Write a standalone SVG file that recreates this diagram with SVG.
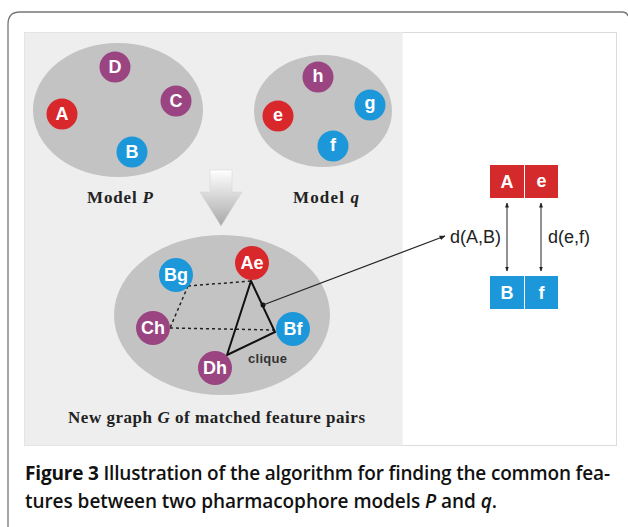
<svg xmlns="http://www.w3.org/2000/svg" width="628" height="527" viewBox="0 0 628 527">
<defs>
<linearGradient id="arrowGrad" x1="0" y1="0" x2="0" y2="1">
<stop offset="0" stop-color="#ffffff"/>
<stop offset="1" stop-color="#a8a8a8"/>
</linearGradient>
<marker id="ah" viewBox="0 0 10 10" refX="9" refY="5" markerWidth="5" markerHeight="5" orient="auto-start-reverse">
<path d="M0,1 L10,5 L0,9 z" fill="#222"/>
</marker>
<style>
.red{fill:#d8282b}
.pur{fill:#9a4582}
.blu{fill:#1c98da}
.lbl{font-family:"Liberation Sans",Arial,sans-serif;font-weight:bold;fill:#fff;text-anchor:middle;dominant-baseline:central;font-size:18px}
.ell{fill:#c3c3c3}
.model{font-family:"Liberation Serif","Times New Roman",serif;font-weight:bold;font-size:17px;fill:#222}
.dash{stroke:#222;stroke-width:1.5;stroke-dasharray:3,3;fill:none}
.solid{stroke:#111;stroke-width:2;fill:none}
.dist{font-family:"Liberation Sans",Arial,sans-serif;font-size:18px;fill:#222}
.cap{font-family:"Open Sans","Noto Sans",sans-serif;font-size:19px;font-weight:600;fill:#111}
</style>
</defs>
<rect width="628" height="527" fill="#fff"/>
<path d="M8,527 V24 Q8,12 20,12 H622 Q627,12 628,16" fill="none" stroke="#777" stroke-width="1.3"/>
<rect x="24.5" y="32.5" width="592" height="413" fill="#fff" stroke="#dcdcdc" stroke-width="1"/>
<rect x="24.5" y="32.5" width="378" height="413" fill="#eeeeee"/>

<g id="modelP">
<ellipse class="ell" cx="118" cy="110" rx="85" ry="67"/>
<text class="model" x="87" y="203" textLength="66" lengthAdjust="spacing">Model <tspan font-style="italic">P</tspan></text>
</g>
<g id="nodeD"><circle class="pur" cx="115" cy="67" r="15.5"/><text class="lbl" x="115" y="67">D</text></g>
<g id="nodeC"><circle class="pur" cx="176" cy="101" r="15.5"/><text class="lbl" x="176" y="101">C</text></g>
<g id="nodeA"><circle class="red" cx="62" cy="114" r="15.5"/><text class="lbl" x="62" y="114">A</text></g>
<g id="nodeB"><circle class="blu" cx="132" cy="152" r="15.5"/><text class="lbl" x="132" y="152">B</text></g>

<g id="modelQ">
<ellipse class="ell" cx="323" cy="111" rx="69" ry="56"/>
<text class="model" x="293" y="203" textLength="66" lengthAdjust="spacing">Model <tspan font-style="italic">q</tspan></text>
</g>
<g id="nodeh"><circle class="pur" cx="318" cy="77" r="15.5"/><text class="lbl" x="318" y="76">h</text></g>
<g id="nodeg"><circle class="blu" cx="370" cy="105" r="15.5"/><text class="lbl" x="370" y="103">g</text></g>
<g id="nodee"><circle class="red" cx="278" cy="116" r="15.5"/><text class="lbl" x="278" y="115">e</text></g>
<g id="nodef"><circle class="blu" cx="333" cy="146" r="15.5"/><text class="lbl" x="333" y="145">f</text></g>

<g id="bigArrow">
<path d="M210,170 H232 V192 H242 L221,226 L200,192 H210 Z" fill="url(#arrowGrad)" stroke="#d0d0d0" stroke-width="0.5"/>
</g>

<g id="graphG">
<ellipse class="ell" cx="222" cy="315" rx="108" ry="80"/>
<text class="model" x="68" y="423" textLength="297" lengthAdjust="spacing">New graph <tspan font-style="italic">G</tspan> of matched feature pairs</text>
</g>

<g id="connectors">
<path class="dash" d="M188,286 L251,281"/>
<path class="dash" d="M188,286 L170,328"/>
<path class="dash" d="M170,328 L275,330"/>
<path class="solid" d="M251,281 L275,332 L227,355 Z"/>
<circle cx="263" cy="305" r="2.5" fill="#111"/>
<line x1="263" y1="305" x2="445" y2="236" stroke="#222" stroke-width="1.2" marker-end="url(#ah)"/>
<line x1="507" y1="203" x2="507" y2="271" stroke="#222" stroke-width="1" marker-start="url(#ah)" marker-end="url(#ah)"/>
<line x1="541" y1="203" x2="541" y2="271" stroke="#222" stroke-width="1" marker-start="url(#ah)" marker-end="url(#ah)"/>
</g>

<g id="nodeAe"><circle class="red" cx="252" cy="263" r="17"/><text class="lbl" x="252" y="263">Ae</text></g>
<g id="nodeBg"><circle class="blu" cx="176" cy="275" r="17"/><text class="lbl" x="176" y="275">Bg</text></g>
<g id="nodeCh"><circle class="pur" cx="153" cy="328" r="17"/><text class="lbl" x="153" y="328">Ch</text></g>
<g id="nodeBf"><circle class="blu" cx="293" cy="329" r="17"/><text class="lbl" x="293" y="329">Bf</text></g>
<g id="nodeDh"><circle class="pur" cx="215" cy="368" r="17"/><text class="lbl" x="215" y="368">Dh</text></g>
<text x="248" y="363" font-family="Liberation Sans, Arial, sans-serif" font-weight="bold" font-size="13" fill="#333" textLength="39" lengthAdjust="spacing">clique</text>

<g id="pairAe">
<rect x="490" y="165" width="34" height="33" fill="#d42a2c"/>
<rect x="525" y="165" width="33" height="33" fill="#d42a2c"/>
<text class="lbl" x="507" y="181.5">A</text>
<text class="lbl" x="541.5" y="180.5">e</text>
</g>
<g id="pairBf">
<rect x="490" y="276" width="34" height="33" fill="#1c98da"/>
<rect x="525" y="276" width="33" height="33" fill="#1c98da"/>
<text class="lbl" x="507" y="292.5">B</text>
<text class="lbl" x="541.5" y="292.5">f</text>
</g>
<text class="dist" x="501" y="243" text-anchor="end">d(A,B)</text>
<text class="dist" x="548" y="243">d(e,f)</text>

<text class="cap" x="25" y="480" textLength="585" lengthAdjust="spacing"><tspan font-weight="bold">Figure 3</tspan> Illustration of the algorithm for finding the common fea-</text>
<text class="cap" x="25" y="508" textLength="472" lengthAdjust="spacing">tures between two pharmacophore models <tspan font-style="italic">P</tspan> and <tspan font-style="italic">q</tspan>.</text>
</svg>
